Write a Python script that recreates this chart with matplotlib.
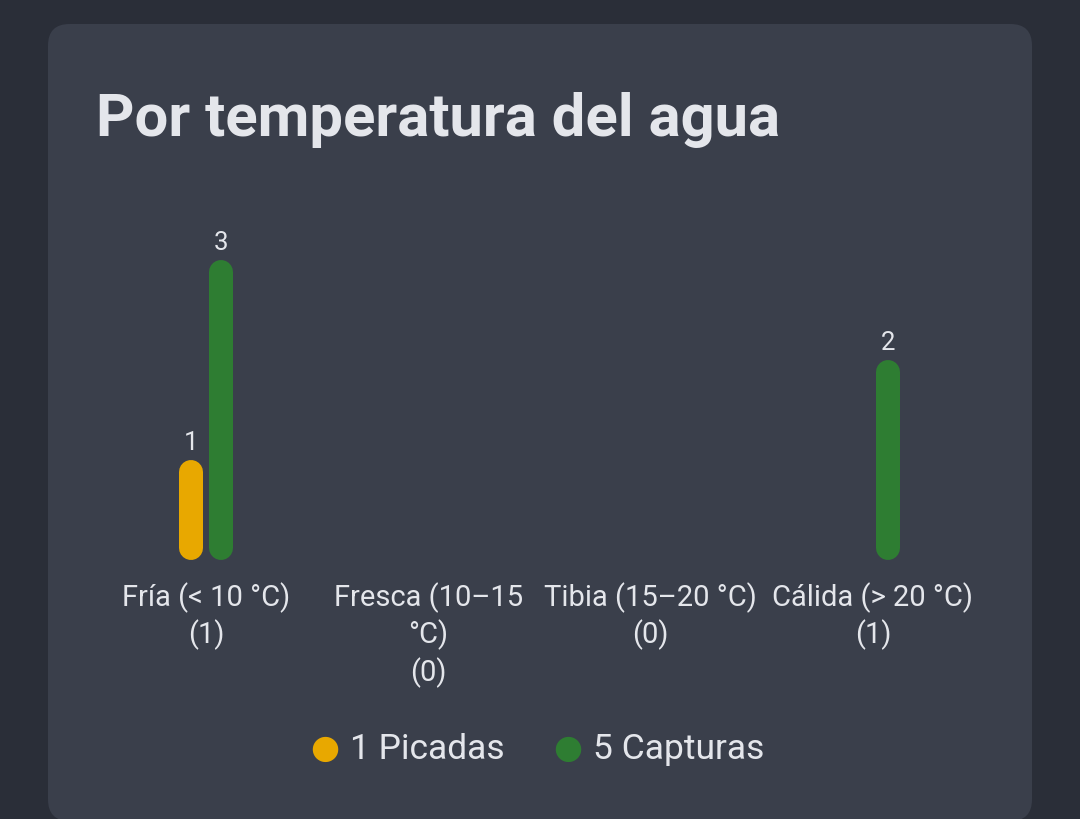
import matplotlib

matplotlib.use("Agg")

import matplotlib.pyplot as plt
import numpy as np
from matplotlib.patches import FancyBboxPatch

plt.rcParams["font.family"] = ["Roboto", "DejaVu Sans"]

# ── data ────────────────────────────────────────────────────────────────────
CATEGORIES = ["Fría (< 10 °C)", "Fresca (10–15\n°C)", "Tibia (15–20 °C)", "Cálida (> 20 °C)"]
SAMPLES = [1, 0, 0, 1]
PICADAS = [1, 0, 0, 0]
CAPTURAS = [3, 0, 0, 2]
SERIES = ["Picadas", "Capturas"]
TITLE = "Por temperatura del agua"

BG = "#2a2e38"
CARD = "#3a3f4b"
TEXT = "#e4e6eb"
YELLOW = "#e8a800"
GREEN = "#2e7d32"

W, H = 1080, 820


def px(x, y):
    """pixel (top-left origin) -> figure fraction"""
    return x / W, 1 - y / H


fig = plt.figure(figsize=(W / 100, H / 100), dpi=100, facecolor=BG)

# card
card = FancyBboxPatch((48 / W, 1 - 822 / H), 984 / W, 797 / H,
                      boxstyle="round,pad=0,rounding_size=0.02",
                      mutation_aspect=W / H, transform=fig.transFigure,
                      facecolor=CARD, edgecolor="none", zorder=-10)
fig.patches.append(card)

fig.text(*px(96, 120), TITLE, fontsize=43, fontweight="bold", color=TEXT,
         ha="left", va="center")

# axes: categories spaced evenly, baseline at y=561 px
AX_H = 330
YMAX = 3.3
ax = fig.add_axes([95 / W, 1 - 561 / H, 889 / W, AX_H / H])
ax.set_facecolor("none")
x = np.arange(len(CATEGORIES))
ax.set_xlim(-0.5, len(CATEGORIES) - 0.5)
ax.set_ylim(0, YMAX)
for s in ax.spines.values():
    s.set_visible(False)
ax.set_yticks([])
ax.set_xticks(x)
ax.set_xticklabels([f"{c}\n({n})" for c, n in zip(CATEGORIES, SAMPLES)],
                   fontsize=21, color=TEXT, linespacing=1.3)
ax.tick_params(axis="x", length=0, pad=15)

# pill-shaped bars: round-capped thick lines, shortened by the cap radius
bar_px = 24
cap = (bar_px / 2) * YMAX / AX_H        # cap radius in data units
lw_pt = bar_px * 72 / 100
offs = 15 / 222
for vals, col, off in ((PICADAS, YELLOW, -offs), (CAPTURAS, GREEN, offs)):
    for xi, v in zip(x + off, vals):
        if v <= 0:
            continue
        ax.plot([xi, xi], [cap, v - cap], color=col, lw=lw_pt,
                solid_capstyle="round")
        ax.annotate(f"{v}", (xi, v), xytext=(0, 13), textcoords="offset points",
                    ha="center", va="center", fontsize=18.5, color=TEXT)

# legend
for (cx, label, col, tot) in ((325, "Picadas", YELLOW, sum(PICADAS)),
                              (568, "Capturas", GREEN, sum(CAPTURAS))):
    fig.text(*px(cx, 748), "●", fontsize=24, color=col, ha="center",
             va="center", family="DejaVu Sans")
    fig.text(*px(cx + 25, 750), f"{tot} {label}", fontsize=25.5, color=TEXT,
             ha="left", va="center")

fig.savefig("out.png", dpi=100, facecolor=BG)
